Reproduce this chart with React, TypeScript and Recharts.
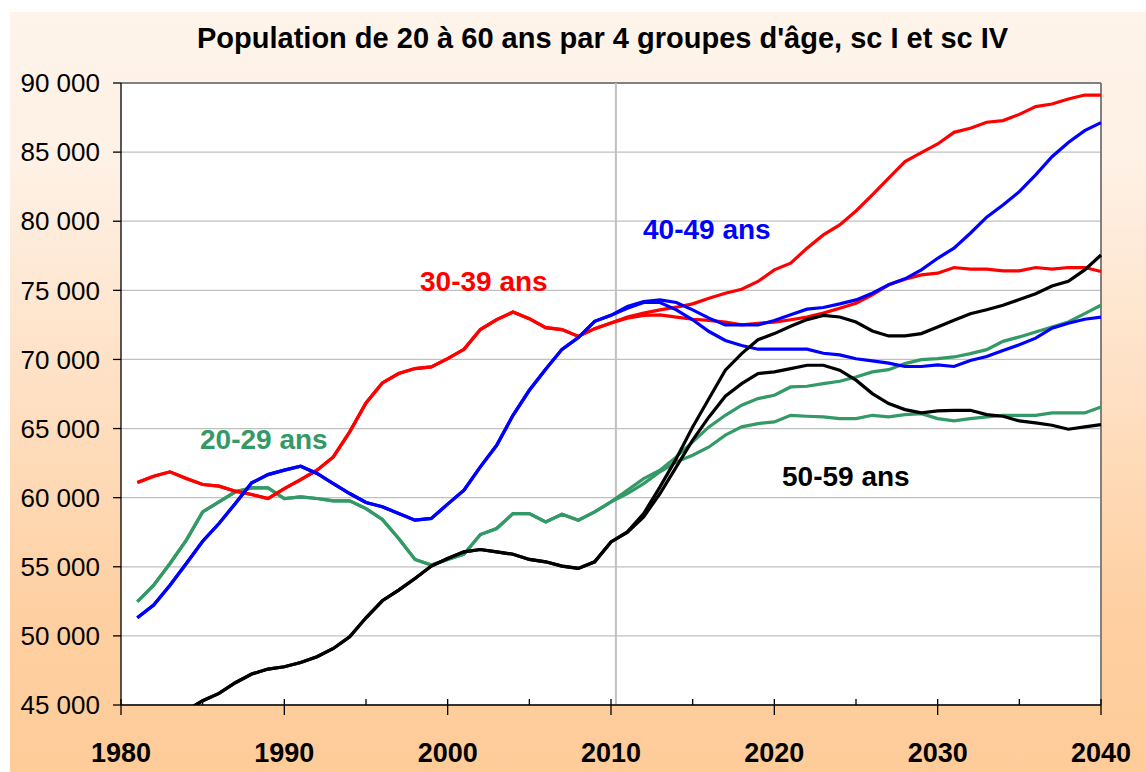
import { CartesianGrid, Line, LineChart, ReferenceLine, XAxis, YAxis } from "recharts";

// years 1981..2040
const years = Array.from({ length: 60 }, (_, i) => 1981 + i);

// observed 1981-2010
const hist2029 = [52470, 53670, 55240, 56930, 58970, 59700, 60420, 60710, 60710, 59940, 60060, 59940, 59770, 59770, 59210, 58420, 57050, 55530, 55120, 55530, 55910, 57330, 57770, 58850, 58850, 58250, 58800, 58370, 58970, 59700];
const hist3039 = [61100, 61550, 61870, 61380, 60950, 60830, 60470, 60230, 59940, 60660, 61310, 61990, 62950, 64760, 66850, 68300, 68980, 69340, 69460, 70060, 70730, 72160, 72880, 73430, 72950, 72300, 72160, 71670, 72230, 72640];
const hist4049 = [51310, 52230, 53670, 55240, 56850, 58130, 59580, 61070, 61670, 61990, 62270, 61750, 61020, 60300, 59650, 59340, 58860, 58370, 58500, 59530, 60540, 62230, 63790, 65960, 67770, 69290, 70730, 71580, 72760, 73190];
const hist5059 = [43300, 43700, 44100, 44600, 45310, 45840, 46610, 47240, 47600, 47770, 48080, 48490, 49090, 49940, 51310, 52540, 53310, 54150, 55050, 55600, 56080, 56250, 56080, 55910, 55530, 55360, 55050, 54880, 55360, 56800];

// projections 2011-2040, high and low scenario
const proj2029Hi = [60540, 61380, 61990, 62950, 64040, 65120, 65960, 66690, 67170, 67410, 68010, 68060, 68250, 68420, 68730, 69100, 69260, 69700, 69990, 70060, 70180, 70420, 70710, 71310, 71630, 71990, 72350, 72710, 73310, 73920];
const proj2029Lo = [60300, 61020, 61870, 62590, 63070, 63670, 64520, 65120, 65360, 65480, 65960, 65890, 65840, 65720, 65720, 65960, 65840, 66010, 66080, 65720, 65550, 65720, 65840, 65960, 65960, 65960, 66130, 66130, 66130, 66560];
const proj3039Hi = [73060, 73350, 73590, 73780, 74020, 74430, 74790, 75080, 75640, 76480, 76960, 78050, 79010, 79730, 80740, 81900, 83110, 84310, 84960, 85590, 86430, 86720, 87160, 87280, 87730, 88290, 88480, 88840, 89130, 89130];
const proj3039Lo = [72990, 73180, 73230, 73060, 72910, 72820, 72700, 72500, 72620, 72700, 72870, 73060, 73350, 73710, 74070, 74670, 75400, 75810, 76120, 76240, 76650, 76530, 76530, 76410, 76410, 76650, 76530, 76650, 76650, 76360];
const proj4049Hi = [73830, 74190, 74310, 74120, 73590, 72990, 72500, 72500, 72500, 72820, 73230, 73640, 73760, 74020, 74310, 74790, 75400, 75830, 76480, 77320, 78050, 79130, 80290, 81180, 82140, 83350, 84670, 85690, 86550, 87130];
const proj4049Lo = [73710, 74120, 74120, 73590, 72870, 72020, 71370, 71010, 70740, 70740, 70740, 70740, 70450, 70330, 70050, 69900, 69730, 69490, 69490, 69610, 69490, 69920, 70210, 70650, 71060, 71540, 72260, 72620, 72910, 73060];
const proj5059Hi = [57530, 58850, 60780, 62830, 65120, 67170, 69220, 70420, 71430, 71870, 72400, 72880, 73190, 73070, 72710, 72060, 71700, 71700, 71870, 72350, 72830, 73310, 73600, 73920, 74330, 74760, 75310, 75650, 76480, 77560];
const proj5059Lo = [57480, 58610, 60300, 62230, 64160, 65840, 67340, 68250, 68980, 69100, 69340, 69580, 69580, 69220, 68500, 67530, 66810, 66370, 66130, 66280, 66320, 66320, 66010, 65890, 65550, 65410, 65240, 64950, 65120, 65290];

const yTicks = [45000, 50000, 55000, 60000, 65000, 70000, 75000, 80000, 85000, 90000];
const xTicks = [1980, 1985, 1990, 1995, 2000, 2005, 2010, 2015, 2020, 2025, 2030, 2035, 2040];

const join = (h: number[], p: number[], i: number) => (i < h.length ? h[i] : p[i - h.length]);

const rows = years.map((year, i) => ({
  year,
  g1: join(hist2029, proj2029Hi, i),
  g2: join(hist2029, proj2029Lo, i),
  r1: join(hist3039, proj3039Hi, i),
  r2: join(hist3039, proj3039Lo, i),
  b1: join(hist4049, proj4049Hi, i),
  b2: join(hist4049, proj4049Lo, i),
  k1: join(hist5059, proj5059Hi, i),
  k2: join(hist5059, proj5059Lo, i),
}));

const FONT = "'Liberation Sans', Arial, sans-serif";
const GREEN = "#339966";

const series = [
  { key: "g1", color: GREEN },
  { key: "g2", color: GREEN },
  { key: "r1", color: "#ff0000" },
  { key: "r2", color: "#ff0000" },
  { key: "b1", color: "#0000ff" },
  { key: "b2", color: "#0000ff" },
  { key: "k1", color: "#000000" },
  { key: "k2", color: "#000000" },
];

function XTick(props: any) {
  const { x, y, payload } = props;
  const major = payload.value % 10 === 0;
  return (
    <g>
      <line x1={x} x2={x} y1={y - 6} y2={major ? y + 10 : y} stroke="#000" strokeWidth={1.3} />
      {major && (
        <text x={x} y={y + 57} textAnchor="middle" fontSize={27} fontWeight="bold" fontFamily={FONT} fill="#000">
          {payload.value}
        </text>
      )}
    </g>
  );
}

const labelStyle = (color: string, left: number, top: number): React.CSSProperties => ({
  position: "absolute",
  left,
  top,
  color,
  fontFamily: FONT,
  fontWeight: "bold",
  fontSize: 28,
  lineHeight: "28px",
  whiteSpace: "nowrap",
});

export default function App() {
  return (
    <div
      style={{
        position: "absolute",
        left: 10,
        top: 12,
        width: 1136,
        height: 760,
        background: "linear-gradient(to bottom, #fef4ea 0%, #fef1e5 20%, #fecfa1 80%, #fecc99 100%)",
      }}
    >
      <div
        style={{
          position: "absolute",
          left: 187,
          top: 12,
          fontFamily: FONT,
          fontWeight: "bold",
          fontSize: 29,
          lineHeight: "29px",
          whiteSpace: "nowrap",
          color: "#000",
        }}
      >
        Population de 20 à 60 ans par 4 groupes d'âge, sc I et sc IV
      </div>
      <LineChart width={1136} height={760} data={rows} margin={{ top: 71, right: 45, bottom: 0, left: 0 }}>
        <CartesianGrid horizontal vertical={false} stroke="#c0c0c0" strokeWidth={1.3} fill="#ffffff" />
        <XAxis
          dataKey="year"
          type="number"
          domain={[1980, 2040]}
          ticks={xTicks}
          interval={0}
          height={67}
          tickSize={0}
          tickMargin={0}
          tickLine={false}
          tick={<XTick />}
          axisLine={{ stroke: "#000", strokeWidth: 1.3 }}
        />
        <YAxis
          type="number"
          domain={[45000, 90000]}
          ticks={yTicks}
          allowDataOverflow
          width={111}
          tickSize={8}
          tickMargin={13}
          tickFormatter={(v: number) => `${v / 1000} 000`}
          tick={{ fontSize: 26, fill: "#000", fontFamily: FONT }}
          tickLine={{ stroke: "#000", strokeWidth: 1.3 }}
          axisLine={{ stroke: "#000", strokeWidth: 1.3 }}
        />
        <ReferenceLine y={90000} stroke="#808080" strokeWidth={2} />
        <ReferenceLine x={2040} stroke="#808080" strokeWidth={2} />
        <ReferenceLine x={2010.3} stroke="#c0c0c0" strokeWidth={2} />
        {series.map((s) => (
          <Line
            key={s.key}
            type="linear"
            dataKey={s.key}
            stroke={s.color}
            strokeWidth={3.2}
            dot={false}
            activeDot={false}
            isAnimationActive={false}
          />
        ))}
      </LineChart>
      <div style={labelStyle("#ff0000", 410, 256)}>30-39 ans</div>
      <div style={labelStyle(GREEN, 190, 414)}>20-29 ans</div>
      <div style={labelStyle("#0000ff", 633, 204)}>40-49 ans</div>
      <div style={labelStyle("#000000", 772, 451)}>50-59 ans</div>
    </div>
  );
}
